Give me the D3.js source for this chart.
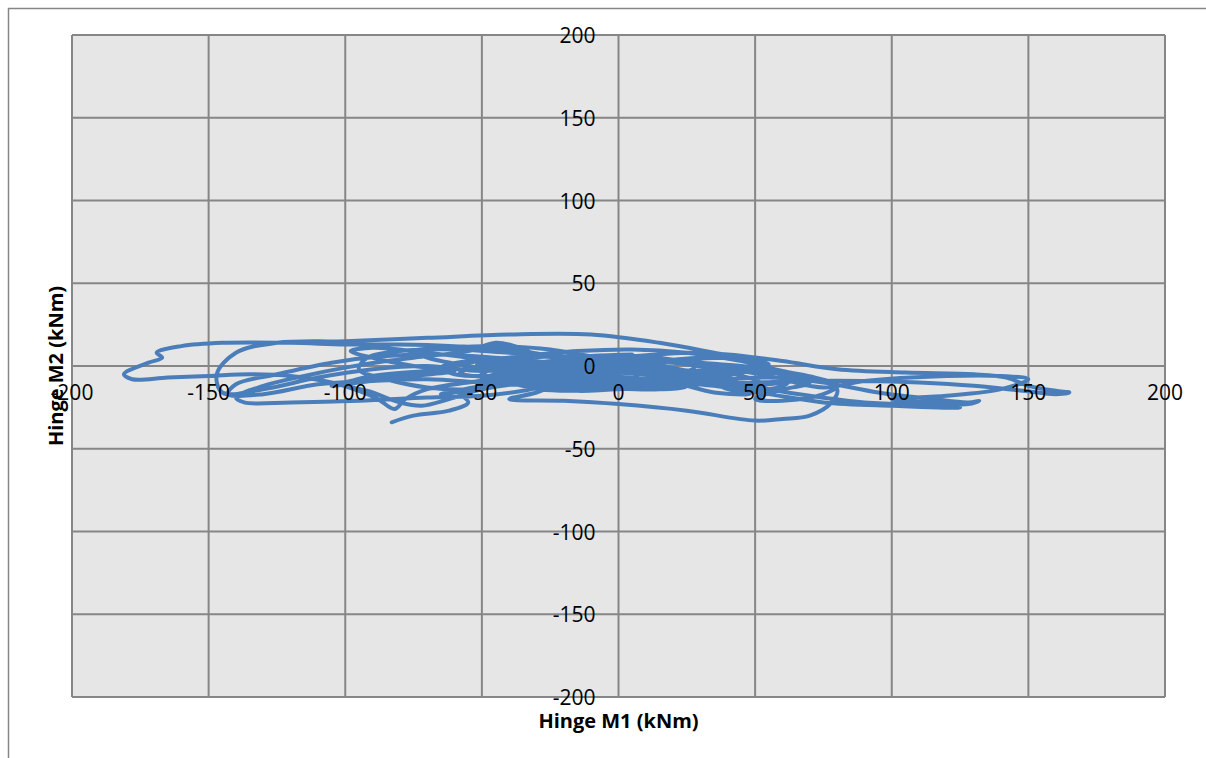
<!DOCTYPE html>
<html><head><meta charset="utf-8">
<script src="https://cdn.jsdelivr.net/npm/d3@7/dist/d3.min.js"></script>
<style>html,body{margin:0;padding:0;background:#fff;}svg{display:block;}</style>
</head><body>
<svg id="c" width="1206" height="758"></svg>
<script>
const xTicks = [-200,-150,-100,-50,0,50,100,150,200];
const yTicks = [-200,-150,-100,-50,0,50,100,150,200];
const xTitle = "Hinge M1 (kNm)";
const yTitle = "Hinge M2 (kNm)";
// trajectory, part 1
const m1a = [-83,-75,-62,-55,-58,-50,-35,-20,-5,10,25,35,30,15,-5,-25,-40,-55,-70,-85,-95,-92,-80,-60,-40,-20,0,20,40,55,62,55,40,20,0,-20,-35,-50,-70,-95,-120,-137,-140,-130,-115,-100,-85,-70,-55,-45,-38,-30,-15,0,15,30,45,55,65,60,45,30,15,0,-15,-30,-45,-60,-65,-55,-35,-15,5,25,40,60,80,105,130,142,150,160,165,160,148,130,110,90,70,50,30,10,-10,-30,-50,-70,-90,-110,-130,-143,-140,-125,-105,-85,-65,-45,-25,-5,15,35,55,75,95,115,128,132,128,110,90,70,55,40,20,0,-20,-40,-60,-80,-100,-120,-145,-160,-169,-167,-172,-181,-178,-165,-150,-135,-120,-105,-95,-88,-82,-78,-70,-55,-40,-20,0,15,25,20,5,-10,-20,-30,-40,-20,0,25,50,60,70,78,80,72,60,50,35,15,-10,-40,-70,-100,-125,-140,-147,-145,-130,-110,-90,-70,-50,-30,-10,10,30,48,40,25,5,-15,-30,-20,0,20,38,50,45,30,15,5,10,-5,-25,-45,-62,-75,-70,-55,-40,-25,-10,5,20,35,48,40,25,10,0];
const m2a = [-34,-30,-27,-22,-16,-12,-8,-4,-2,-5,-10,-6,0,3,2,-3,-10,-14,-13,-8,-2,5,9,10,8,6,5,3,-2,-6,-10,-14,-12,-9,-8,-10,-15,-18,-19,-21,-22,-22,-19,-12,-6,-1,3,6,9,14,12,7,3,-1,-4,-8,-12,-11,-8,-3,0,2,4,3,0,-4,-6,-5,-1,3,5,6,6,8,7,3,-2,-4,-5,-7,-12,-15,-16,-17,-15,-12,-10,-9,-9,-10,-11,-12,-13,-12,-10,-8,-9,-11,-17,-17,-11,-5,2,6,7,5,2,-3,-6,-8,-7,-10,-16,-20,-22,-21,-23,-23,-22,-18,-14,-9,-4,1,5,10,12,13,13,14,14,12,8,5,2,-5,-8,-7,-6,-5,-6,-10,-15,-20,-26,-20,-14,-10,-7,-8,-10,-14,-12,-7,-4,-5,-9,-16,-20,-21,-23,-27,-33,-32,-30,-22,-14,-8,-4,3,8,14,19,19,17,15,14,8,-5,-16,-14,-7,-2,0,-3,0,2,-1,-3,-2,-5,-9,-13,-15,-12,-6,0,3,5,2,-3,-8,-10,-8,-2,4,10,12,11,9,5,0,-4,-2,-5,-8,-10,-16,-17,-14,-4,0,2,0];
// trajectory, part 2
const m1b = [-10,-30,-45,-50,-40,-20,0,20,35,30,10,-10,-28,-35,-20,0,18,32,45,52,40,20,0,-18,-35,-52,-48,-30,-12,8,28,42,35,15,-5,-25,-42,-58,-50,-30,-8,12,30,48,62,75,90,120,140,150,140,120,100,120,125,100,75,55,35,15,-5,-25,-45,-60,-65,-50,-30,-10,10,30,45,55,45,25,5,-15,-30,-25,-5,15,28,20,0,-18,-32,-25,-8,10];
const m2b = [-6,-10,-8,-3,1,-1,-5,-9,-5,1,0,-3,-6,-12,-14,-12,-10,-12,-10,-4,2,1,-2,2,0,-6,-13,-11,-8,-6,-4,-8,-14,-13,-11,-8,-4,0,6,4,3,1,-3,-9,-13,-9,-6,-6,-8,-14,-18,-20,-23,-25,-24,-22,-17,-12,-9,-6,-8,-12,-16,-17,-12,-8,-3,2,5,4,1,-4,-10,-11,-9,-4,1,6,5,0,-7,-13,-15,-13,-9,-4,-1,-2];
// trajectory, part 3
const m1c = [-20,-45,-70,-90,-98,-90,-75,-60,-75,-95,-105,-95,-75,-55,-35,-15,5,25,45,60,72,80,75,60,50,58,70,62,45,30,10,-10,-30,-50,-62,-72,-80,-90,-100,-90,-70,-50,-30,-10,5];
const m2c = [3,8,11,9,5,0,-3,-6,-10,-12,-8,-4,2,6,9,10,8,3,-3,-7,-12,-17,-21,-20,-15,-10,-6,-2,-5,-9,-11,-10,-14,-20,-24,-22,-16,-11,-6,-3,-1,2,6,7,2];

const m1 = m1a.concat(m1b, m1c), m2 = m2a.concat(m2b, m2c);

const svg = d3.select("#c");
const W = 1206, H = 758;
const L = 72, R = 1165, T = 35, B = 697;
const font = "'Open Sans', 'Liberation Sans', sans-serif";

svg.append("path").attr("d", `M8.5,${H} V8.5 H${W}`).attr("fill","none").attr("stroke","#868686").attr("stroke-width",1.5);

const x = d3.scaleLinear().domain([-200,200]).range([L,R]);
const y = d3.scaleLinear().domain([-200,200]).range([B,T]);

svg.append("rect").attr("x",L).attr("y",T).attr("width",R-L).attr("height",B-T).attr("fill","#e6e6e6");

const grid = svg.append("g").attr("stroke","#868686").attr("stroke-width",2);
grid.selectAll("line.v").data(xTicks).join("line").attr("class","v")
  .attr("x1",d=>x(d)).attr("x2",d=>x(d)).attr("y1",T).attr("y2",B);
grid.selectAll("line.h").data(yTicks).join("line").attr("class","h")
  .attr("y1",d=>y(d)).attr("y2",d=>y(d)).attr("x1",L).attr("x2",R);

const pts = m1.map((v,i)=>[v,m2[i]]).filter(d=>d[1]!==undefined);
const line = d3.line().x(d=>x(d[0])).y(d=>y(d[1])).curve(d3.curveCatmullRom.alpha(0.5));
svg.append("path").datum(pts).attr("d",line).attr("fill","none")
  .attr("stroke","#4a7ebb").attr("stroke-width",4).attr("stroke-linejoin","round").attr("stroke-linecap","round");

svg.append("g").selectAll("text").data(xTicks).join("text")
  .attr("x",d=>x(d)).attr("y",y(0)+34).attr("text-anchor","middle")
  .attr("font-family",font).attr("font-size",21).attr("fill","#000").text(d=>d);
svg.append("g").selectAll("text").data(yTicks).join("text")
  .attr("x",x(0)-23).attr("y",d=>y(d)+8).attr("text-anchor","end")
  .attr("font-family",font).attr("font-size",21).attr("fill","#000").text(d=>d);

svg.append("text").attr("x",x(0)).attr("y",728).attr("text-anchor","middle")
  .attr("font-family",font).attr("font-weight","bold").attr("font-size",20).text(xTitle);
svg.append("text").attr("transform",`translate(63,${y(0)}) rotate(-90)`).attr("text-anchor","middle")
  .attr("font-family",font).attr("font-weight","bold").attr("font-size",20).text(yTitle);
</script>
</body></html>
